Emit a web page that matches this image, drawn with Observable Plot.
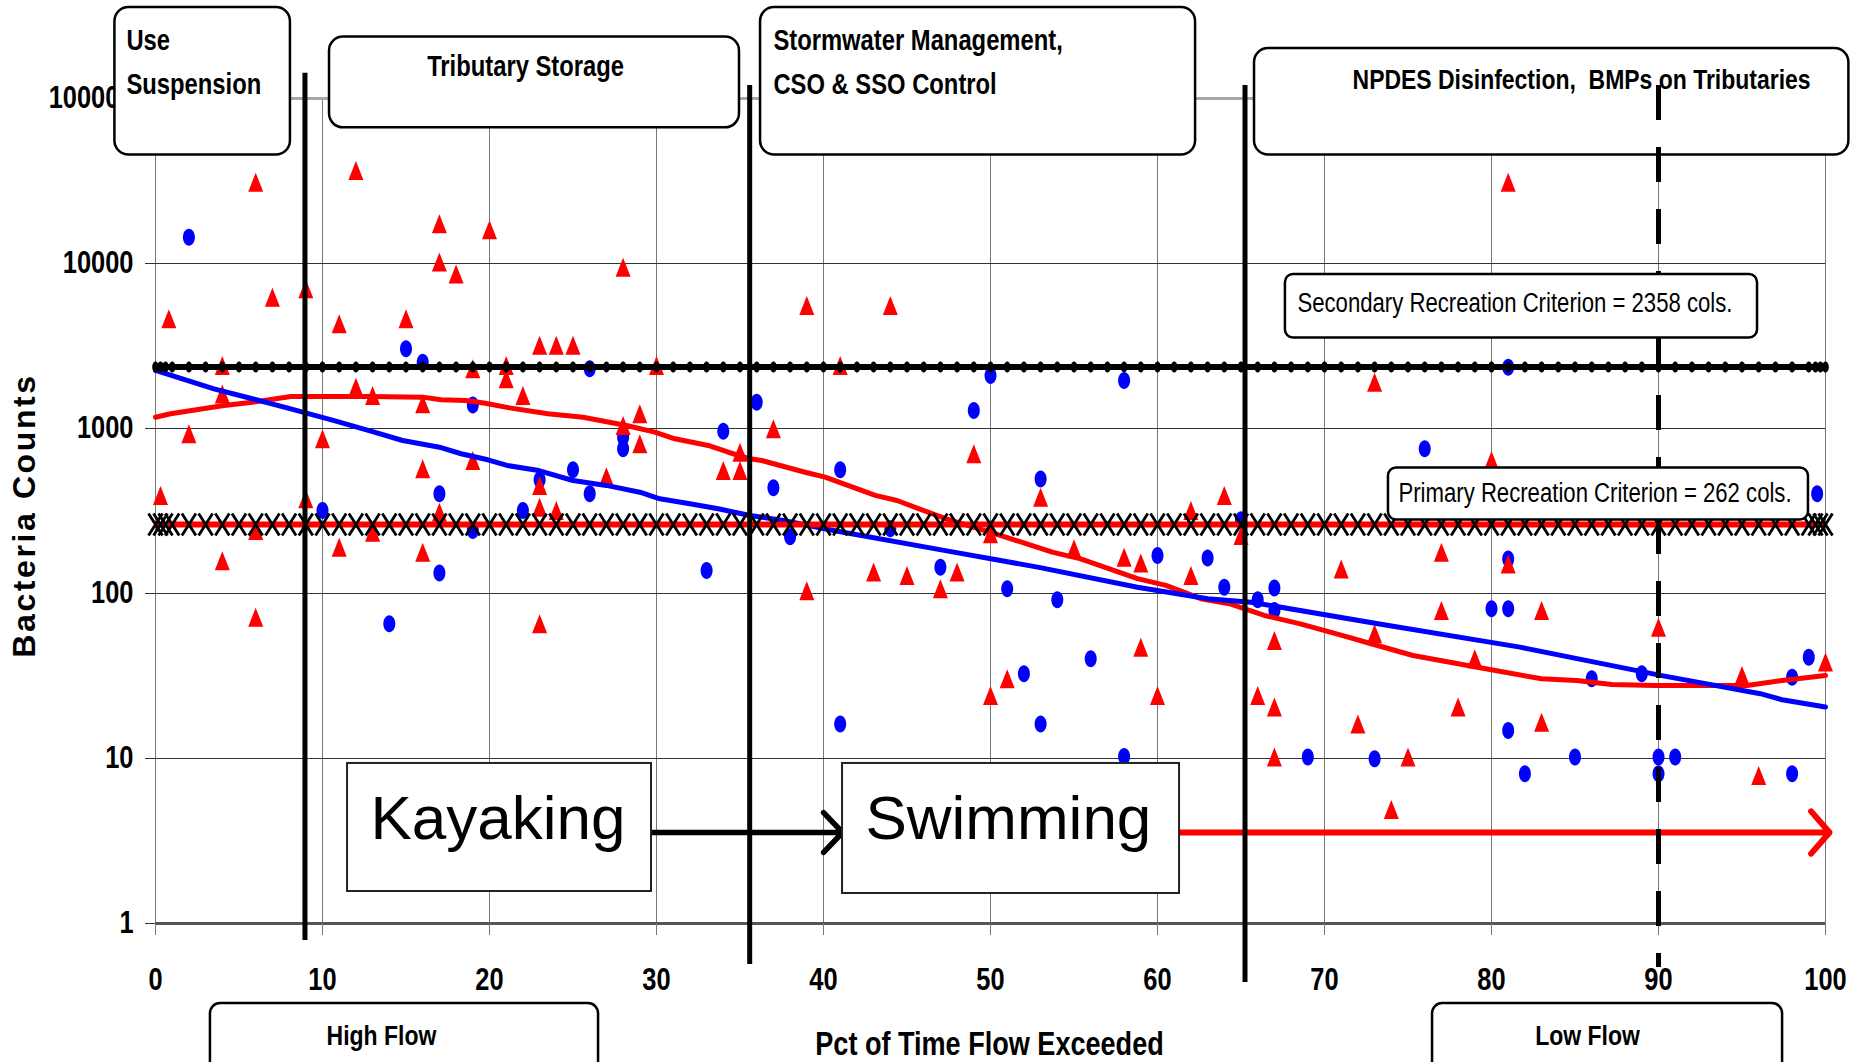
<!DOCTYPE html>
<html><head><meta charset="utf-8">
<script src="https://cdn.jsdelivr.net/npm/d3@7"></script>
<script src="https://cdn.jsdelivr.net/npm/@observablehq/plot@0.6"></script>
<style>html,body{margin:0;padding:0;background:#fff;overflow:hidden}</style>
</head><body><div id="chart"></div>
<script>
// ---------------- data ----------------
const xTicks = [0, 10, 20, 30, 40, 50, 60, 70, 80, 90, 100];
const yTicks = [1, 10, 100, 1000, 10000, 100000];

// blue circles: [pct of time flow exceeded, bacteria count]
const blueObs = [
  [2,14400],[10,318],[14,65.5],[15,3040],[16,2520],[17,402],[17,133],[19,1390],[19,241],
  [22,318],[23,489],[25,562],[26,2300],[26,402],[28,885],[28,753],[33,138],[34,963],
  [36,1444],[37,437],[38,221],[41,562],[41,16.2],[44,247],[47,144],[49,1285],[50,2094],
  [51,107],[52,32.6],[53,495],[53,16.2],[54,91.5],[56,40.2],[58,1955],[58,10.3],[60,170],
  [63,164],[64,109],[65,280],[66,91.5],[67,108],[67,78.9],[69,10.2],[73,9.96],[76,753],
  [80,80.7],[81,2353],[81,162],[81,80.7],[81,14.8],[82,8.08],[85,10.2],[86,30.4],[89,32.6],
  [90,10.2],[90,8.08],[91,10.2],[98,31.1],[98,8.08],[99,41.1],[99.5,402]
];
// red triangles
const redObs = [
  [0.3,393],[0.8,4620],[2,929],[4,2410],[4,1620],[4,158],[6,31100],[6,241],[6,71.8],
  [7,6250],[9,7020],[9,375],[10,866],[11,4310],[11,191],[12,36600],[12,1780],[13,1585],
  [13,235],[15,4620],[16,1413],[16,570],[16,178],[17,17400],[17,10200],[17,311],[18,8650],
  [19,2300],[19,640],[20,16000],[21,2410],[21,2000],[22,1585],[23,3190],[23,452],[23,333],
  [23,65.5],[24,3190],[24,318],[25,3190],[27,510],[28,9500],[28,1043],[29,1228],[29,808],
  [30,2410],[34,556],[35,718],[35,556],[37,996],[39,5560],[39,104],[41,2410],[43,135],
  [44,5560],[45,128.6],[47,107],[48,135],[49,703],[50,230],[50,24.1],[51,30.4],[53,383],
  [55,187],[58,166],[59,153],[59,47.3],[60,24.1],[62,318],[62,128.6],[64,393],[65,225],
  [66,24.1],[67,51.9],[67,20.5],[67,10.2],[71,141],[72,16.2],[73,1910],[73,57],[74,4.9],
  [75,10.2],[77,178],[77,78.9],[78,20.5],[79,40.2],[80,640],[81,31100],[81,151],[83,78.9],
  [83,16.6],[90,62.5],[95,31.8],[96,7.9],[100,38.4]
];
// trend curves
const blueTrend = [
  [0,2250],[3.5,1740],[5.8,1514],[8.1,1316],[10.7,1117],[13.1,950],[14.8,846],[17,770],
  [18.3,703],[19.9,646],[21.05,597],[22.95,556],[25,484],[27,452],[29,411],[30.2,375],
  [32,350],[33.7,326],[35.6,297],[37.6,277],[40.6,241],[47.3,182],[52.9,144],[58.8,109],
  [63,93],[65.6,88.6],[73.2,65.5],[81.7,47.3],[90.2,31.8],[96.1,24.7],[97.4,22.7],[100,20.5]
];
const redTrend = [
  [0,1170],[0.9,1228],[4.1,1378],[5.8,1444],[8.1,1563],[12.8,1563],[16,1549],[17.1,1494],
  [18.6,1479],[19.75,1424],[21.2,1334],[23.5,1228],[25.6,1170],[28.2,1043],[29.9,950],
  [31.1,866],[33.1,789],[34.3,718],[35.6,655],[36.3,640],[38.9,543],[40.1,507],[43.1,393],
  [44.4,366],[47.3,284],[50.3,230],[53.7,178],[55.4,162],[58.8,123],[60.5,112],[62.6,93],
  [64.3,86.7],[66.4,73.6],[68.55,65.5],[71.1,55.6],[72.8,49.6],[75.3,42.1],[79.15,35.7],
  [83,30.4],[85.1,29.7],[87.2,28.1],[89.8,27.7],[95.3,27.7],[97.4,29.7],[100,31.8]
];
const secondaryCriterion = 2358;
const primaryCriterion = 262;
const criterionMarkerPct = [0,0.3,0.6,1,2,3,4,5,6,7,8,9,10,11,12,13,14,15,16,17,18,19,20,
  21,22,23,24,25,26,27,28,29,30,31,32,33,34,35,36,37,38,39,40,41,42,43,44,45,46,47,48,49,50,
  51,52,53,54,55,56,57,58,59,60,61,62,63,64,65,66,67,68,69,70,71,72,73,74,75,76,77,78,79,80,
  81,82,83,84,85,86,87,88,89,90,91,92,93,94,95,96,97,98,99,99.4,99.7,100];

// ---------------- annotations (data space: pct, count) ----------------
const phaseBoxes = [
  {x1:-2.43, x2:8.08, y1:356000, y2:45400},
  {x1:10.42, x2:34.97, y1:235600, y2:66400},
  {x1:36.23, x2:62.28, y1:356000, y2:45400},
  {x1:65.81, x2:101.4, y1:201000, y2:45400}
];
const phaseLabelsLeft = [
  {text:"Use", x:-1.74, y:196500},
  {text:"Suspension", x:-1.74, y:107200},
  {text:"Stormwater Management,", x:37.0, y:196500},
  {text:"CSO & SSO Control", x:37.0, y:107200}
];
const phaseLabelNpdes = [{text:"NPDES Disinfection,\u00a0 BMPs on Tributaries", x:71.68, y:114200}];
const phaseLabelsMid = [{text:"Tributary Storage", x:22.16, y:136900}];
const dividers = [
  {x:8.95, y1:142000, y2:0.79},
  {x:35.58, y1:120000, y2:0.565},
  {x:65.24, y1:120000, y2:0.439}
];
const dashedDivider = [{x:90, y1:120000, y2:0.541}];
const criterionBoxes = [
  {x1:67.66, x2:95.93, y1:8580, y2:3535},
  {x1:73.83, x2:98.98, y1:576, y2:279}
];
const criterionLabels = [
  {text:"Secondary Recreation Criterion = 2358 cols.", x:68.38, y:5117},
  {text:"Primary Recreation Criterion = 262 cols.", x:74.43, y:356.6}
];
const activityBoxes = [
  {x1:11.5, x2:29.7, y1:9.33, y2:1.563},
  {x1:41.14, x2:61.32, y1:9.33, y2:1.52}
];
const activityLabels = [
  {text:"Kayaking", x:12.87, y:3.25},
  {text:"Swimming", x:42.51, y:3.25}
];
const blackArrow = [{x1:29.76, x2:41.14, y:3.56}];
const redArrow = [{x1:61.32, x2:100.24, y:3.56}];
const flowBoxes = [
  {x1:3.29, x2:26.53, y1:0.327, y2:0.12},
  {x1:76.47, x2:97.43, y1:0.327, y2:0.12}
];
const flowLabels = [
  {text:"High Flow", x:13.53, y:0.1823},
  {text:"Low Flow", x:85.75, y:0.1823}
];
const xTitle = [{text:"Pct of Time Flow Exceeded", x:49.94, y:0.1607}];
const yTitle = [{text:"Bacteria Counts", x:-7.8, y:297}];

// ---------------- symbols ----------------
function ellipseSymbol(rx, ry) {
  return {draw(ctx) {
    const k = 0.5523;
    ctx.moveTo(rx, 0);
    ctx.bezierCurveTo(rx, ry*k, rx*k, ry, 0, ry);
    ctx.bezierCurveTo(-rx*k, ry, -rx, ry*k, -rx, 0);
    ctx.bezierCurveTo(-rx, -ry*k, -rx*k, -ry, 0, -ry);
    ctx.bezierCurveTo(rx*k, -ry, rx, -ry*k, rx, 0);
    ctx.closePath();
  }};
}
const tallTriangle = {draw(ctx) {
  ctx.moveTo(0, -9.5); ctx.lineTo(7.5, 9.5); ctx.lineTo(-7.5, 9.5); ctx.closePath();
}};
const crossX = {draw(ctx) {
  ctx.moveTo(-7, -11); ctx.lineTo(7, 11); ctx.moveTo(7, -11); ctx.lineTo(-7, 11);
}};

const ARIAL = '"Liberation Sans",Arial,sans-serif';
const NARROW_RATIO = 0.82;                       // Arial Narrow vs Arial advance widths
const WIDE_TEXTS = new Set(["Kayaking", "Swimming", "Bacteria Counts"]);

const blueData = blueObs.map(([x, y]) => ({x, y}));
const redData = redObs.map(([x, y]) => ({x, y}));
const blueLine = blueTrend.map(([x, y]) => ({x, y}));
const redLine = redTrend.map(([x, y]) => ({x, y}));
const secMarks = criterionMarkerPct.map(x => ({x, y: secondaryCriterion}));
const priMarks = criterionMarkerPct.map(x => ({x, y: primaryCriterion}));

const chart = Plot.plot({
  width: 1850, height: 1062,
  marginLeft: 155, marginRight: 25, marginTop: 98, marginBottom: 139,
  x: {domain: [0, 100]},
  y: {type: "log", domain: [1, 100000]},
  style: {background: "white", fontFamily: ARIAL, color: "black", overflow: "visible"},
  marks: [
    Plot.gridX(xTicks, {stroke: "#777", strokeOpacity: 1, strokeWidth: 1}),
    Plot.gridY(yTicks, {stroke: "#333", strokeOpacity: 1, strokeWidth: 1}),
    Plot.ruleY([100000], {stroke: "#a8a8a8", strokeWidth: 3}),
    Plot.ruleY([1], {stroke: "#555", strokeWidth: 3}),
    Plot.axisX({ticks: xTicks, tickSize: 12, tickPadding: 32, stroke: "#777", fill: "black",
      fontSize: 31, fontWeight: "bold", fontFamily: ARIAL, tickFormat: d => String(d), label: null}),
    Plot.axisY({ticks: yTicks, tickSize: 10, tickPadding: 12, stroke: "#333", fill: "black",
      fontSize: 31, fontWeight: "bold", fontFamily: ARIAL, tickFormat: d => String(d), label: null}),

    Plot.dot(blueData, {x: "x", y: "y", symbol: ellipseSymbol(6, 8.5), r: 6, fill: "#0000ff", stroke: "none"}),
    Plot.dot(redData, {x: "x", y: "y", symbol: tallTriangle, r: 6, fill: "#ff0000", stroke: "none"}),

    Plot.line(redLine, {x: "x", y: "y", stroke: "#ff0000", strokeWidth: 5, curve: "linear"}),
    Plot.line(blueLine, {x: "x", y: "y", stroke: "#0000ff", strokeWidth: 5, curve: "linear"}),

    Plot.ruleY([primaryCriterion], {x1: 0, x2: 100, stroke: "#ff0000", strokeWidth: 6}),
    Plot.dot(priMarks, {x: "x", y: "y", symbol: crossX, r: 6, fill: "none", stroke: "black", strokeWidth: 2.8}),
    Plot.ruleY([secondaryCriterion], {x1: 0, x2: 100, stroke: "black", strokeWidth: 6}),
    Plot.dot(secMarks, {x: "x", y: "y", symbol: ellipseSymbol(3.3, 5.5), r: 4, fill: "black", stroke: "none"}),

    // phase boxes along the top
    Plot.rect(phaseBoxes, {x1: "x1", x2: "x2", y1: "y1", y2: "y2", rx: 14, fill: "white", stroke: "black", strokeWidth: 2.5}),
    Plot.text(phaseLabelsLeft, {x: "x", y: "y", text: "text", textAnchor: "start", lineAnchor: "bottom",
      fontSize: 29, fontWeight: "bold", fill: "black"}),
    Plot.text(phaseLabelNpdes, {x: "x", y: "y", text: "text", textAnchor: "start", lineAnchor: "bottom",
      fontSize: 28, fontWeight: "bold", fill: "black"}),
    Plot.text(phaseLabelsMid, {x: "x", y: "y", text: "text", textAnchor: "middle", lineAnchor: "bottom",
      fontSize: 29, fontWeight: "bold", fill: "black"}),

    // activity arrows
    Plot.arrow(blackArrow, {x1: "x1", x2: "x2", y1: "y", y2: "y", stroke: "black", strokeWidth: 5.5, headAngle: 93, headLength: 7.5}),
    Plot.arrow(redArrow, {x1: "x1", x2: "x2", y1: "y", y2: "y", stroke: "#ff0000", strokeWidth: 6, headAngle: 98, headLength: 7}),

    // flow regime dividers
    Plot.ruleX(dividers, {x: "x", y1: "y1", y2: "y2", stroke: "black", strokeWidth: 5}),
    Plot.ruleX(dashedDivider, {x: "x", y1: "y1", y2: "y2", stroke: "black", strokeWidth: 5, strokeDasharray: "35,27"}),

    // criterion labels
    Plot.rect(criterionBoxes, {x1: "x1", x2: "x2", y1: "y1", y2: "y2", rx: 8, fill: "white", stroke: "black", strokeWidth: 2.5}),
    Plot.text(criterionLabels, {x: "x", y: "y", text: "text", textAnchor: "start", lineAnchor: "bottom",
      fontSize: 27, fill: "black"}),

    // activity boxes
    Plot.rect(activityBoxes, {x1: "x1", x2: "x2", y1: "y1", y2: "y2", fill: "white", stroke: "#222", strokeWidth: 2}),
    Plot.text(activityLabels, {x: "x", y: "y", text: "text", textAnchor: "start", lineAnchor: "bottom",
      fontSize: 62, fill: "black"}),

    // flow regime boxes below the axis
    Plot.rect(flowBoxes, {x1: "x1", x2: "x2", y1: "y1", y2: "y2", rx: 10, fill: "white", stroke: "black", strokeWidth: 2.5}),
    Plot.text(flowLabels, {x: "x", y: "y", text: "text", textAnchor: "middle", lineAnchor: "bottom",
      fontSize: 28, fontWeight: "bold", fill: "black"}),

    Plot.text(xTitle, {x: "x", y: "y", text: "text", textAnchor: "middle", lineAnchor: "bottom",
      fontSize: 33, fontWeight: "bold", fill: "black"}),
    Plot.text(yTitle, {x: "x", y: "y", text: "text", textAnchor: "middle", lineAnchor: "middle", rotate: -90,
      fontSize: 32, fontWeight: "bold", fill: "black"})
  ]
});

document.getElementById("chart").appendChild(chart);

// Arial-Narrow look: compress every label except the wide ones
d3.select(chart).selectAll("text").each(function() {
  const t = this.textContent;
  if (t === "Bacteria Counts") { this.setAttribute("letter-spacing", 2.6); return; }
  if (WIDE_TEXTS.has(t)) return;
  const len = this.getComputedTextLength();
  if (len > 0) {
    this.setAttribute("textLength", (len * NARROW_RATIO).toFixed(1));
    this.setAttribute("lengthAdjust", "spacingAndGlyphs");
  }
});
</script>
</body></html>
